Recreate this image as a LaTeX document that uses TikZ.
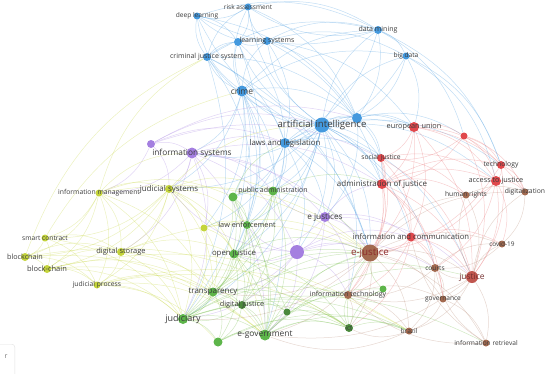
\documentclass[tikz,border=0pt]{standalone}
\usepackage{fontspec}
\setmainfont{Open Sans}
\usetikzlibrary{backgrounds}
\definecolor{cB}{HTML}{4499DE}
\definecolor{cP}{HTML}{A47FE0}
\definecolor{cY}{HTML}{C4D43C}
\definecolor{cG}{HTML}{5DB54A}
\definecolor{cGd}{HTML}{4B8A3C}
\definecolor{cR}{HTML}{E0484C}
\definecolor{cN}{HTML}{A36A50}
\definecolor{cJ}{HTML}{C0564E}
\definecolor{labc}{HTML}{3C3C3C}
\definecolor{ejc}{HTML}{8E2C2C}
\newcommand\fsz[1]{\fontsize{#1}{#1}\selectfont}
\newcommand\vn[7]{\node[dot=#5, minimum size=#4pt] (#1) at (#2,#3) {};
  \node[lab, font=\fsz{#6}] (#1l) at (#2,#3) {#7};}
\newcommand\un[5]{\node[dot=#5, minimum size=#4pt] (#1) at (#2,#3) {};}
\tikzset{
  dot/.style={circle, fill=#1, draw=none, inner sep=0pt},
  lab/.style={text=labc, inner sep=0pt},
  ed/.style={draw=#1, opacity=0.33, line width=0.5pt},
}
\begin{document}
\begin{tikzpicture}[x=1pt,y=-1pt]
\useasboundingbox (0,0) rectangle (550,373);
% ---- nodes: blue
\un{ls1}{238}{42}{8}{cB}
\un{b2}{357}{118}{10}{cB}
\vn{ra}{248}{7}{7}{cB}{6.5}{risk assessment}
\vn{dl}{197}{16}{7}{cB}{6.6}{deep learning}
\vn{ls}{267}{41}{8}{cB}{7}{learning systems}
\vn{dm}{378}{30}{8}{cB}{7}{data mining}
\vn{bd}{406}{56}{7}{cB}{6.6}{big data}
\vn{cjs}{207}{57}{8}{cB}{7}{criminal justice system}
\vn{crime}{242}{91}{11}{cB}{8.5}{crime}
\vn{ai}{322}{125}{15}{cB}{9.6}{artificial intelligence}
\vn{lal}{285}{143}{10}{cB}{7.8}{laws and legislation}
% purple
\un{p1}{151}{144}{8}{cP}
\un{p2}{297}{252}{14}{cP}
\vn{is}{192}{153}{11}{cP}{8.3}{information systems}
\vn{ej}{325}{217}{10}{cP}{8.2}{e justices}
% yellow
\un{y1}{204}{228}{7}{cY}
\vn{im}{99}{193}{7}{cY}{6.8}{information management}
\vn{js}{169}{189}{8}{cY}{8}{judicial systems}
\vn{sc}{45}{238}{7}{cY}{6.7}{smart contract}
\vn{dst}{121}{252}{8}{cY}{7.5}{digital storage}
\vn{bc}{25}{257}{8}{cY}{7.2}{blockchain}
\vn{bch}{47}{269}{8}{cY}{7.5}{block-chain}
\vn{jp}{97}{285}{7}{cY}{6.8}{judicial process}
% green
\un{g1}{233}{197}{9}{cG}
\un{g2}{287}{312}{7}{cGd}
\un{g3}{218}{342}{9}{cG}
\un{g4}{383}{289}{7}{cG}
\vn{pa}{273}{191}{9}{cG}{7}{public administration}
\vn{le}{247}{225}{8}{cG}{7.3}{law enforcement}
\vn{oj}{234}{254}{9}{cG}{7.8}{open justice}
\vn{tr}{213}{292}{9}{cG}{8}{transparency}
\vn{dj}{242}{305}{8}{cGd}{7.3}{digital justice}
\vn{jud}{183}{319}{10}{cG}{9}{judiciary}
\vn{eg}{265}{335}{11}{cG}{8.4}{e-government}
\vn{ict}{349}{328}{8}{cGd}{6.5}{ict}
% red
\un{r1}{464}{136}{7}{cR}
\vn{eu}{414}{127}{10}{cR}{7.3}{european union}
\vn{sj}{381}{158}{8}{cR}{6.7}{social justice}
\vn{aoj}{382}{184}{10}{cR}{8}{administration of justice}
\vn{tech}{501}{165}{8}{cR}{6.8}{technology}
\vn{atj}{496}{181}{10}{cR}{7.3}{access to justice}
\vn{ic}{411}{237}{9}{cR}{7.7}{information and communication}
% brown
\vn{hr}{466}{195}{7}{cN}{6.7}{human rights}
\vn{dig}{525}{192}{7}{cN}{6.8}{digitalization}
\vn{cov}{502}{244}{7}{cN}{6.5}{covid-19}
\node[dot=cN, minimum size=17pt] (ejust) at (370,253) {};
\node[lab, text=ejc, font=\fsz{9.8}] (ejustl) at (370,253) {e-justice};
\vn{crt}{435}{268}{8}{cN}{6.6}{courts}
\node[dot=cJ, minimum size=12pt] (just) at (472,277) {};
\node[lab, text=ejc!70!labc, font=\fsz{8.5}] (justl) at (472,277) {justice};
\vn{it}{348}{295}{8}{cN}{7}{information technology}
\vn{gov}{443}{299}{7}{cN}{6.6}{governance}
\vn{br}{409}{331}{7}{cN}{6.6}{brazil}
\vn{ir}{486}{343}{7}{cN}{6.6}{information retrieval}
% corner control
\node[draw=black!12, rounded corners=3pt, minimum width=22pt, minimum height=40pt, anchor=north east] (rbox) at (15,344) {};
\node[text=black!55, font=\fsz{7}] (rtxt) at (6,357) {r};
% ---- edges
\begin{pgfonlayer}{background}
\foreach \a/\b in {ai/crime,ai/ls,ai/ls1,ai/dm,ai/bd,ai/cjs,ai/dl,ai/ra,ai/lal,ai/b2,ai/eu,ai/sj,ai/aoj,ai/is,ai/ej,ai/p2,ai/ejust,ai/pa,ai/le,ai/jud,ai/js,ai/tech,ai/atj,ai/oj,ai/just,ai/g1,ai/ic,ai/it,ai/crt,
 crime/cjs,crime/dl,crime/ra,crime/ls,crime/ls1,crime/dm,crime/bd,crime/lal,crime/b2,crime/le,crime/is,crime/pa,crime/oj,crime/jud,crime/js,crime/y1,crime/g1,crime/eg,crime/ejust,
 cjs/dl,cjs/ra,cjs/ls,cjs/ls1,cjs/lal,cjs/b2,cjs/dm,cjs/le,cjs/jud,cjs/ejust,ls/ra,ls/dl,ls/ls1,ls/dm,ls/bd,ls/lal,ls/b2,ls/aoj,ls/eu,ls1/lal,ls1/oj,
 dm/bd,dm/b2,dm/lal,dm/dl,dm/ra,dm/r1,dm/tech,bd/b2,bd/lal,bd/eu,bd/tech,bd/atj,lal/b2,lal/eu,lal/sj,lal/aoj,lal/pa,lal/le,lal/ej,lal/p2,lal/ejust,lal/oj,lal/g1,lal/y1,
 b2/eu,b2/sj,b2/aoj,b2/ej,b2/r1,ra/dl,ra/b2,dl/ls1,ra/ls1,dl/dm,ra/dm,dl/b2}
 \draw[ed=cB] (\a) to[bend left=22] (\b);
\foreach \a/\b in {p1/is,p1/ai,p1/b2,p1/lal,p1/sj,is/js,is/im,is/p2,is/ej,is/aoj,is/lal,is/pa,is/ejust,is/jud,is/dst,is/eg,ej/p2,ej/ejust,ej/aoj,ej/ic,ej/it,ej/oj,ej/pa,ej/eg,ej/just,
 p2/ejust,p2/it,p2/oj,p2/le,p2/tr,p2/ic,p2/jud,p2/eg,p2/crt,p2/js,is/y1,p1/im,p1/js}
 \draw[ed=cP] (\a) to[bend left=22] (\b);
\foreach \a/\b in {im/js,im/sc,im/dst,im/bc,im/bch,im/jp,im/is,im/tr,im/jud,js/dst,js/bc,js/bch,js/jp,js/sc,js/y1,js/le,js/oj,js/tr,js/jud,js/pa,js/ejust,js/eg,js/ai,
 sc/bc,sc/bch,sc/dst,sc/jp,bc/bch,bc/dst,bc/jp,bch/dst,bch/jp,bch/tr,bch/jud,dst/jp,dst/tr,dst/jud,dst/oj,dst/eg,dst/ejust,jp/jud,jp/tr,jp/eg,jp/g3,
 y1/le,y1/oj,y1/tr,y1/jud,y1/ejust,bch/eg,im/g1,jp/ict,sc/crime,im/cjs,bc/cjs,bch/br,bc/eg,sc/jud,im/ejust,jp/br,bc/ict}
 \draw[ed=cY] (\a) to[bend left=22] (\b);
\foreach \a/\b in {g1/pa,g1/le,g1/oj,g1/tr,g1/jud,g1/eg,g1/dj,g1/lal,pa/le,pa/oj,pa/eg,pa/tr,pa/ejust,pa/aoj,pa/dj,le/oj,le/tr,le/jud,le/eg,le/dj,oj/tr,oj/jud,oj/dj,oj/eg,oj/g2,oj/g3,oj/ejust,oj/ict,
 tr/jud,tr/dj,tr/eg,tr/g3,tr/g2,tr/ict,dj/eg,dj/jud,dj/g2,dj/g3,dj/ict,dj/ejust,jud/g3,jud/eg,jud/ict,jud/ejust,jud/it,jud/just,g3/eg,g3/ict,
 eg/ict,eg/g2,eg/ejust,eg/it,eg/g4,eg/br,g2/ict,g2/ejust,ict/it,ict/ejust,ict/g4,ict/br,g4/ejust,g4/it,jud/br,tr/ejust,jud/ir,eg/crt,g3/br}
 \draw[ed=cG!80!cY] (\a) to[bend left=22] (\b);
\foreach \a/\b in {eu/r1,eu/sj,eu/aoj,eu/tech,eu/atj,eu/ejust,eu/ic,eu/just,eu/dig,r1/tech,r1/atj,r1/dig,r1/sj,r1/aoj,r1/just,sj/aoj,sj/atj,sj/ejust,sj/ic,sj/hr,sj/just,sj/it,
 aoj/ejust,aoj/ic,aoj/atj,aoj/hr,aoj/crt,aoj/just,aoj/it,aoj/tech,aoj/gov,tech/atj,tech/dig,tech/just,tech/ejust,atj/dig,atj/hr,atj/just,atj/ejust,atj/cov,atj/crt,
 ic/ejust,ic/just,ic/crt,ic/it,ic/cov,ic/gov,ic/ict}
 \draw[ed=cR!80] (\a) to[bend left=22] (\b);
\foreach \a/\b in {ejust/just,ejust/crt,ejust/it,ejust/gov,ejust/br,ejust/cov,ejust/ir,ejust/hr,ejust/dig,ejust/ict,just/crt,just/cov,just/gov,just/ir,just/dig,just/hr,just/br,just/it,
 crt/gov,crt/it,crt/br,crt/cov,it/br,it/gov,gov/br,gov/ir,ir/crt,hr/dig,hr/just,dig/cov,it/ict,br/ict,br/eg,ejust/eg,ejust/jud,ejust/tr,just/eg,cov/crt,ir/it,ir/ic}
 \draw[ed=cN!80] (\a) to[bend left=22] (\b);
\end{pgfonlayer}
\end{tikzpicture}
\end{document}
